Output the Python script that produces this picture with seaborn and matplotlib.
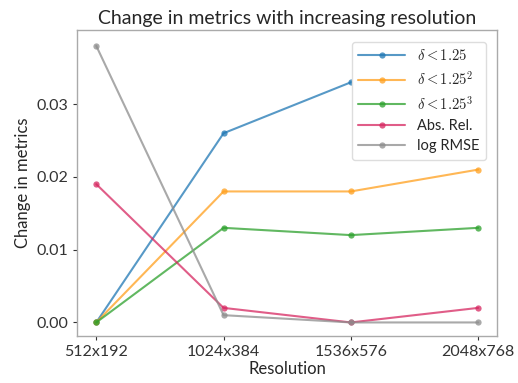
import pandas as pd
import matplotlib
matplotlib.use('Agg')
import matplotlib.pyplot as plt
import seaborn as sns

# 数据
resolutions = ['512x192', '1024x384', '1536x576', '2048x768']
delta1 = [0.0, 0.026, 0.033, 0.035]
delta2 = [0.0, 0.018, 0.018, 0.021]
delta3 = [0.0, 0.013, 0.012, 0.013]
abs_rel = [0.019, 0.002, 0.0, 0.002]
log_rmse = [0.038, 0.001, 0.0, 0.0]

labels = [r'$\delta < 1.25$', r'$\delta < 1.25^2$', r'$\delta < 1.25^3$',
          'Abs. Rel.', 'log RMSE']
series = [delta1, delta2, delta3, abs_rel, log_rmse]
colors = ['#1f77b4', '#ff9f1c', '#2ca02c', '#d62760', '#8c8c8c']

rows = []
for lab, vals in zip(labels, series):
    for r, v in zip(resolutions, vals):
        rows.append({'Resolution': r, 'value': v, 'metric': lab})
df = pd.DataFrame(rows)

sns.set_style("white")
plt.rcParams['font.family'] = ['Lato', 'DejaVu Sans']
plt.rcParams['mathtext.fontset'] = 'cm'

fig, ax = plt.subplots(figsize=(5.18, 3.83), dpi=100)
sns.lineplot(data=df, x='Resolution', y='value', hue='metric', palette=colors,
             marker='o', markersize=4.5, markeredgewidth=0, linewidth=1.5,
             alpha=0.75, sort=False, ax=ax)

ax.set_title('Change in metrics with increasing resolution', fontsize=14, pad=4)
ax.set_xlabel('Resolution', fontsize=12, labelpad=1)
ax.set_ylabel('Change in metrics', fontsize=12)
ax.set_yticks([0.0, 0.01, 0.02, 0.03])
ax.set_ylim(-0.0019, 0.0402)
ax.tick_params(axis='both', labelsize=11.5, length=3, width=0.8, colors='#333333',
               left=True, bottom=True)
for s in ax.spines.values():
    s.set_color('#aaaaaa')
    s.set_linewidth(1.0)

leg = ax.legend(loc='upper right', fontsize=10.5, frameon=True, handlelength=3.2,
                borderpad=0.45, labelspacing=0.45, framealpha=1.0,
                bbox_to_anchor=(0.99, 0.985))
leg.get_frame().set_edgecolor('#dddddd')
for h in leg.get_lines():
    h.set_alpha(0.75)

plt.subplots_adjust(left=0.149, right=0.96, top=0.922, bottom=0.122)
plt.savefig('out.png', dpi=100)
